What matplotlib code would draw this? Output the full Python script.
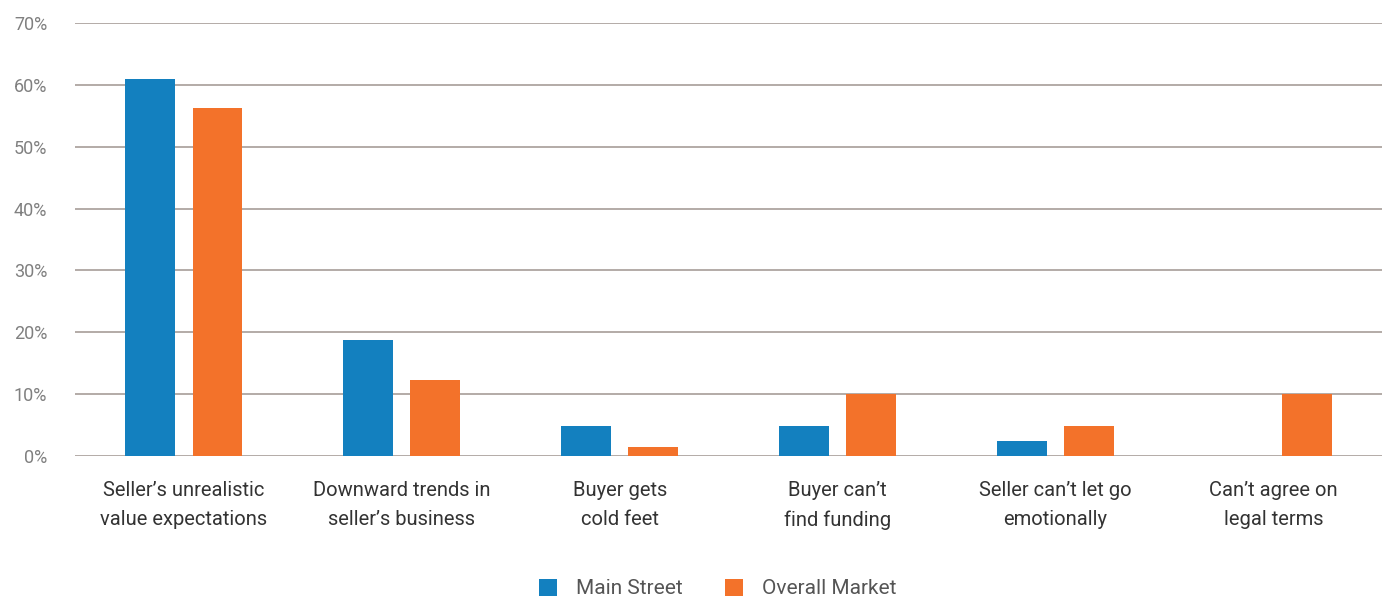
import matplotlib.pyplot as plt
import numpy as np

plt.rcParams['font.family'] = ['Roboto', 'DejaVu Sans']

# Data
categories = [
    "Seller\u2019s unrealistic\nvalue expectations",
    "Downward trends in\nseller\u2019s business",
    "Buyer gets\ncold feet",
    "Buyer can\u2019t\nfind funding",
    "Seller can\u2019t let go\nemotionally",
    "Can\u2019t agree on\nlegal terms",
]
main_street = [60.9, 18.8, 4.9, 4.9, 2.4, 0.0]
overall_market = [56.2, 12.3, 1.5, 10.0, 4.9, 10.0]
y_ticks = [0, 10, 20, 30, 40, 50, 60, 70]

BLUE = '#1380BF'
ORANGE = '#F3722A'
GRID = '#B3ABA7'

fig = plt.figure(figsize=(13.88, 5.98), dpi=100)
ax = fig.add_axes([0.054, 0.2375, 0.942, 0.724])

x = np.arange(len(categories))
w = 0.229
off = 0.154
ax.bar(x - off, main_street, width=w, color=BLUE, label='Main Street', zorder=3)
ax.bar(x + off, overall_market, width=w, color=ORANGE, label='Overall Market', zorder=3)

ax.set_xlim(-0.5, len(categories) - 0.5)
ax.set_ylim(0, 70)
ax.set_yticks(y_ticks)
ax.set_yticklabels([f'{t}%' for t in y_ticks])
for t in y_ticks:
    ax.axhline(t, color=GRID, linewidth=1.4, zorder=1)

ax.set_xticks(x)
ax.set_xticklabels(categories, fontsize=14.5, color='#333333', linespacing=1.7)
ax.tick_params(axis='x', length=0, pad=18)
ax.tick_params(axis='y', length=0, pad=20, labelsize=13, labelcolor='#808080')

for s in ax.spines.values():
    s.set_visible(False)

leg = fig.legend(loc='center', bbox_to_anchor=(0.517, 0.016), ncol=2, frameon=False,
                 fontsize=15, handlelength=0.9, handleheight=0.9, handletextpad=0.9,
                 columnspacing=2.0)
for t in leg.get_texts():
    t.set_color('#555555')

fig.savefig('out.png', dpi=100)
